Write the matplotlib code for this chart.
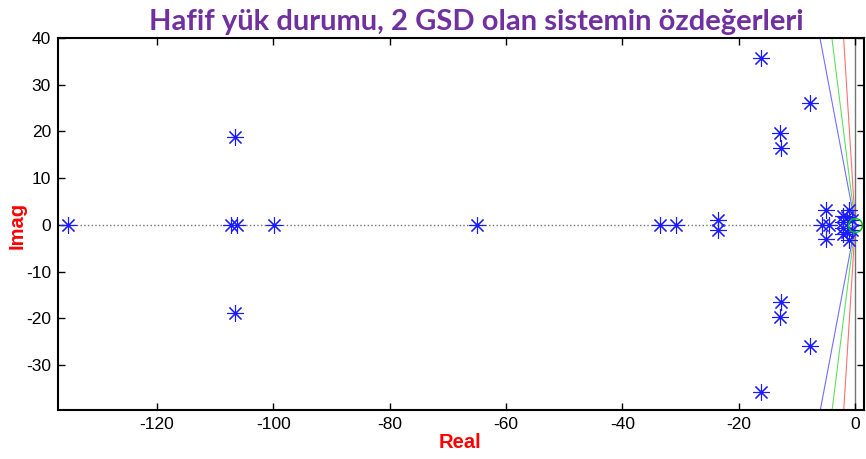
import numpy as np
import matplotlib
matplotlib.use("Agg")
import matplotlib.pyplot as plt

plt.rcParams["axes.unicode_minus"] = False

# Eigenvalues on the real axis
real_only = [-135.2, -107.2, -106.2, -99.9, -65.0, -33.5, -30.8, -5.8, -4.6]

# Complex-conjugate pairs: real part and positive imaginary part
pair_re = [-106.5, -23.6, -16.2, -7.8, -13.0, -12.7, -5.1,
           -1.0, -2.1, -1.4, -2.1, -0.5]
pair_im = [18.9, 1.0, 35.8, 26.0, 19.7, 16.5, 3.1,
           3.2, 2.0, 1.6, 0.7, 1.0]

# Constant damping-ratio rays
zetas = [0.05, 0.10, 0.15]
zeta_colors = ["#ff7070", "#60e060", "#7070ff"]

x_ticks = [-120, -100, -80, -60, -40, -20, 0]
y_ticks = [-30, -20, -10, 0, 10, 20, 30, 40]
x_lim = (-137.0, 1.5)
y_lim = (-39.6, 40.0)

title = "Hafif yük durumu, 2 GSD olan sistemin özdeğerleri"

re = np.array(real_only + pair_re + pair_re)
im = np.array([0.0] * len(real_only) + pair_im + [-v for v in pair_im])

fig = plt.figure(figsize=(8.66, 4.59), dpi=100)
ax = fig.add_axes([58 / 866, 49 / 459, 806 / 866, 372 / 459])

# Reference axes through the origin
ax.axhline(0, color="0.45", lw=1.0, ls=":", zorder=1)
ax.axvline(0, color="0.45", lw=1.0, ls="-", zorder=1)

# Damping rays from the origin
for z, c in zip(zetas, zeta_colors):
    t = z / np.sqrt(1 - z ** 2)
    ax.plot([-t * 45, 0, -t * 45], [45, 0, -45], color=c, lw=0.8, zorder=2)

ax.plot(re, im, ls="none", marker=(8, 2, 0), ms=12, mew=0.8,
        color="#1a1aff", zorder=3)
ax.plot([0], [0], ls="none", marker="o", ms=10, mfc="none",
        mec="#00cc00", mew=1.0, zorder=4)

ax.set_xlim(*x_lim)
ax.set_ylim(*y_lim)
ax.set_xticks(x_ticks)
ax.set_yticks(y_ticks)
ax.tick_params(direction="in", length=5, width=1.0, top=True, right=True,
               labelsize=12.5, pad=5)
for lab in ax.get_xticklabels() + ax.get_yticklabels():
    lab.set_family("Liberation Sans")
for s in ax.spines.values():
    s.set_linewidth(1.5)

fig.text(460 / 866, 1 - 442 / 459, "Real", color="red", fontsize=14.5,
         fontweight="bold", family="Liberation Sans", ha="center", va="center")
fig.text(17 / 866, 1 - 225 / 459, "Imag", color="red", fontsize=14.5,
         fontweight="bold", family="Liberation Sans", ha="center", va="center",
         rotation=90)
fig.text(476 / 866, 1 - 30 / 459, title, color="#7030a0", fontsize=21,
         fontweight="bold", family="Lato", ha="center", va="baseline")

fig.savefig("out.png", dpi=100)
